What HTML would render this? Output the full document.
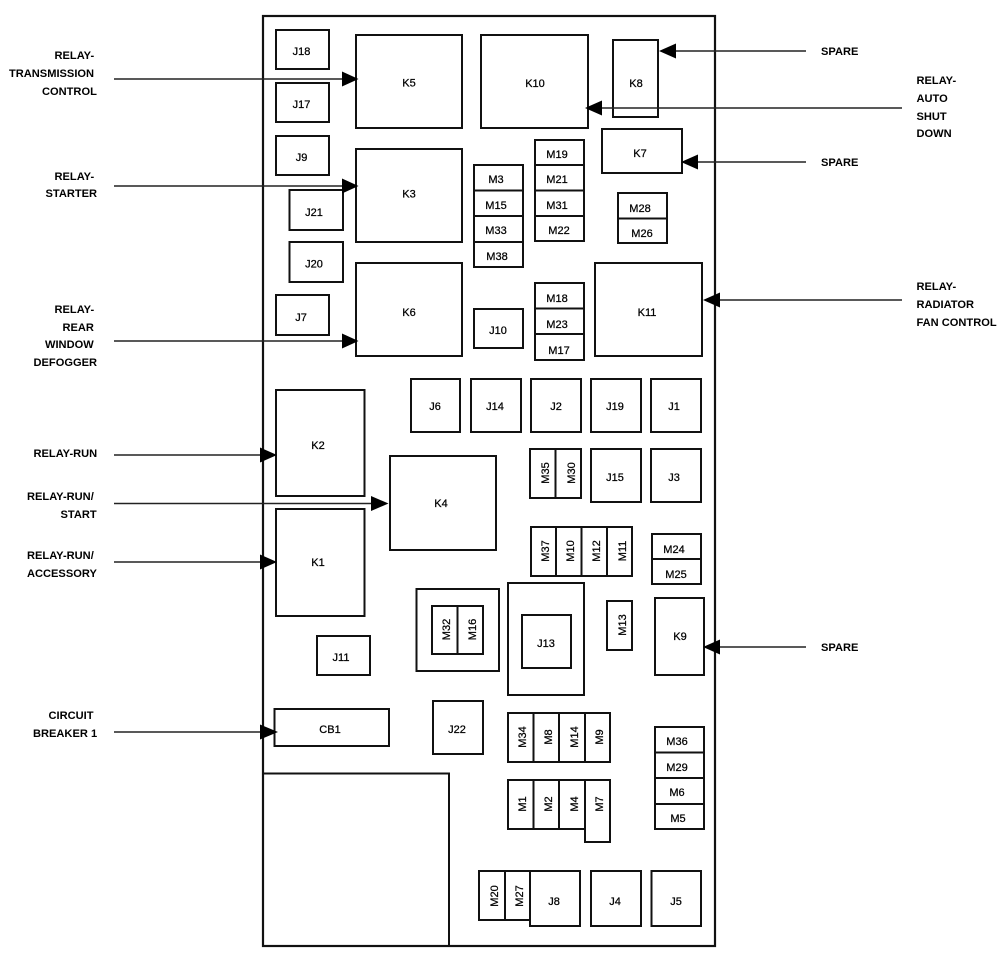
<!DOCTYPE html>
<html><head><meta charset="utf-8"><style>
html,body{margin:0;padding:0;background:#fff;width:1007px;height:966px;overflow:hidden}
svg{display:block}
rect{fill:none;stroke:#111;stroke-width:2}
line{stroke:#222;stroke-width:1.5}
polygon{fill:#000}
text{font-family:"Liberation Sans",sans-serif;font-size:11px;fill:#000}
.c text{text-anchor:middle;stroke:#000;stroke-width:.25px}
.l text{font-weight:bold;font-size:11.1px}
</style></head><body>
<svg width="1007" height="966" viewBox="0 0 1007 966" xmlns="http://www.w3.org/2000/svg">
<rect x="263" y="16" width="452" height="930" style="stroke-width:2.2"/>
<rect x="263" y="773.5" width="186" height="172.5"/>
<rect x="276" y="30" width="53" height="39"/><rect x="276" y="83" width="53" height="39"/><rect x="276" y="136" width="53" height="39"/>
<rect x="289.5" y="190" width="53.5" height="40"/><rect x="289.5" y="242" width="53.5" height="40"/><rect x="276" y="295" width="53" height="40"/>
<rect x="356" y="35" width="106" height="93"/><rect x="356" y="149" width="106" height="93"/><rect x="356" y="263" width="106" height="93"/>
<rect x="481" y="35" width="107" height="93"/><rect x="613" y="40" width="45" height="77"/><rect x="602" y="129" width="80" height="44"/>
<rect x="535" y="140" width="49" height="101"/><rect x="535" y="165" width="49" height="25.5"/><rect x="535" y="190.5" width="49" height="25.5"/>
<rect x="474" y="165" width="49" height="102"/><rect x="474" y="190.5" width="49" height="25.5"/><rect x="474" y="216" width="49" height="26"/>
<rect x="618" y="193" width="49" height="50"/><rect x="618" y="218.5" width="49" height="24.5"/>
<rect x="595" y="263" width="107" height="93"/>
<rect x="535" y="283" width="49" height="77"/><rect x="535" y="308.5" width="49" height="25.5"/>
<rect x="474" y="309" width="49" height="39"/>
<rect x="411" y="379" width="49" height="53"/><rect x="471" y="379" width="50" height="53"/><rect x="531" y="379" width="50" height="53"/><rect x="591" y="379" width="50" height="53"/><rect x="651" y="379" width="50" height="53"/>
<rect x="276" y="390" width="88.5" height="106"/><rect x="276" y="509" width="88.5" height="107"/><rect x="390" y="456" width="106" height="94"/>
<rect x="530" y="449" width="51" height="49"/><rect x="555.5" y="449" width="25.5" height="49"/>
<rect x="591" y="449" width="50" height="53"/><rect x="651" y="449" width="50" height="53"/>
<rect x="531" y="527" width="101" height="49"/><rect x="556" y="527" width="25.5" height="49"/><rect x="581.5" y="527" width="25.5" height="49"/>
<rect x="652" y="534" width="49" height="50"/><rect x="652" y="559" width="49" height="25"/>
<rect x="416.5" y="589" width="82.5" height="82"/><rect x="432" y="606" width="51" height="48"/><rect x="457.5" y="606" width="25.5" height="48"/>
<rect x="508" y="583" width="76" height="112"/><rect x="522" y="615" width="49" height="53"/>
<rect x="607" y="601" width="25" height="49"/><rect x="655" y="598" width="49" height="77"/>
<rect x="317" y="636" width="53" height="39"/><rect x="274.500" y="709" width="114.500" height="37"/><rect x="433" y="701" width="50" height="53"/>
<rect x="508" y="713" width="102" height="49"/><rect x="533.500" y="713" width="25.500" height="49"/><rect x="559" y="713" width="26" height="49"/>
<rect x="508" y="780" width="77" height="49"/><rect x="533.500" y="780" width="25.500" height="49"/><rect x="585" y="780" width="25" height="62"/>
<rect x="655" y="727" width="49" height="102"/><rect x="655" y="752.500" width="49" height="25.500"/><rect x="655" y="778" width="49" height="26"/>
<rect x="479" y="871" width="51" height="49"/><rect x="505" y="871" width="25" height="49"/>
<rect x="530" y="871" width="50" height="55" style="fill:#fff"/><rect x="591" y="871" width="50" height="55"/><rect x="651.500" y="871" width="49.500" height="55"/>

<line x1="114" y1="79" x2="345" y2="79"/><polygon points="342,71.500 358.500,79 342,86.500"/>
<line x1="114" y1="186" x2="345" y2="186"/><polygon points="342,178.500 358.500,186 342,193.500"/>
<line x1="114" y1="341" x2="345" y2="341"/><polygon points="342,333.500 358.500,341 342,348.500"/>
<line x1="114" y1="455" x2="263" y2="455"/><polygon points="260,447.500 277,455 260,462.500"/>
<line x1="114" y1="503.500" x2="374" y2="503.500"/><polygon points="371,496 388.500,503.500 371,511"/>
<line x1="114" y1="562" x2="263" y2="562"/><polygon points="260,554.500 277,562 260,569.500"/>
<line x1="114" y1="732" x2="263" y2="732"/><polygon points="260,724.500 278,732 260,739.500"/>
<line x1="806" y1="51" x2="673" y2="51"/><polygon points="676,43.500 659,51 676,58.500"/>
<line x1="902" y1="108" x2="599" y2="108"/><polygon points="602,100.500 585,108 602,115.500"/>
<line x1="806" y1="162" x2="695" y2="162"/><polygon points="698,154.500 681,162 698,169.500"/>
<line x1="902" y1="300" x2="717" y2="300"/><polygon points="720,292.500 703,300 720,307.500"/>
<line x1="806" y1="647" x2="717" y2="647"/><polygon points="720,639.500 703,647 720,654.500"/>

<g class="c">
<text x="409" y="86.500">K5</text><text x="409" y="197.500">K3</text><text x="409" y="316">K6</text><text x="535" y="87">K10</text><text x="636" y="87">K8</text><text x="640" y="157">K7</text><text x="647" y="316">K11</text>
<text x="301.500" y="55">J18</text><text x="301.500" y="108">J17</text><text x="301.500" y="161">J9</text><text x="314" y="216">J21</text><text x="314" y="267.500">J20</text><text x="301" y="321">J7</text>
<text x="496" y="183">M3</text><text x="496" y="209">M15</text><text x="496" y="234">M33</text><text x="497" y="260">M38</text>
<text x="557" y="158">M19</text><text x="557" y="183">M21</text><text x="557" y="209">M31</text><text x="559" y="234">M22</text>
<text x="640" y="212">M28</text><text x="642" y="237">M26</text>
<text x="557" y="302">M18</text><text x="557" y="328">M23</text><text x="559" y="354">M17</text><text x="498" y="334">J10</text>
<text x="435" y="410">J6</text><text x="495" y="410">J14</text><text x="556" y="410">J2</text><text x="615" y="410">J19</text><text x="674" y="410">J1</text>
<text x="318" y="449">K2</text><text x="318" y="566">K1</text><text x="441" y="507">K4</text><text x="615" y="481">J15</text><text x="674" y="481">J3</text>
<text x="674" y="553">M24</text><text x="676" y="578">M25</text><text x="546" y="647">J13</text><text x="680" y="640">K9</text><text x="341" y="661">J11</text><text x="330" y="733">CB1</text><text x="457" y="733">J22</text>
<text x="677" y="745">M36</text><text x="677" y="771">M29</text><text x="677" y="796">M6</text><text x="678" y="822">M5</text>
<text x="554" y="905">J8</text><text x="615" y="905">J4</text><text x="676" y="905">J5</text>
<text transform="translate(549,473) rotate(-90)">M35</text><text transform="translate(575,473) rotate(-90)">M30</text>
<text transform="translate(549,551) rotate(-90)">M37</text><text transform="translate(574,551) rotate(-90)">M10</text><text transform="translate(600,551) rotate(-90)">M12</text><text transform="translate(626,551) rotate(-90)">M11</text>
<text transform="translate(450,629.500) rotate(-90)">M32</text><text transform="translate(476,629.500) rotate(-90)">M16</text><text transform="translate(626,625) rotate(-90)">M13</text>
<text transform="translate(526,737) rotate(-90)">M34</text><text transform="translate(552,737) rotate(-90)">M8</text><text transform="translate(578,737) rotate(-90)">M14</text><text transform="translate(603,737) rotate(-90)">M9</text>
<text transform="translate(526,804) rotate(-90)">M1</text><text transform="translate(552,804) rotate(-90)">M2</text><text transform="translate(578,804) rotate(-90)">M4</text><text transform="translate(603,804) rotate(-90)">M7</text>
<text transform="translate(498,896) rotate(-90)">M20</text><text transform="translate(523,896) rotate(-90)">M27</text>
</g>

<g class="l">
<text x="54.500" y="59">RELAY-</text><text x="9" y="77">TRANSMISSION</text><text x="42" y="95">CONTROL</text>
<text x="54.500" y="180">RELAY-</text><text x="45.500" y="197">STARTER</text>
<text x="54.500" y="313">RELAY-</text><text x="62.500" y="331">REAR</text><text x="45" y="348">WINDOW</text><text x="33.500" y="366">DEFOGGER</text>
<text x="33.500" y="457">RELAY-RUN</text><text x="27" y="500">RELAY-RUN/</text><text x="60.500" y="518">START</text>
<text x="27" y="559">RELAY-RUN/</text><text x="27" y="577">ACCESSORY</text>
<text x="48.500" y="719">CIRCUIT</text><text x="33" y="737">BREAKER 1</text>
<text x="821" y="55">SPARE</text><text x="916.500" y="84">RELAY-</text><text x="916.500" y="102">AUTO</text><text x="916.500" y="120">SHUT</text><text x="916.500" y="137">DOWN</text>
<text x="821" y="166">SPARE</text><text x="916.500" y="290">RELAY-</text><text x="916.500" y="308">RADIATOR</text><text x="916.500" y="326">FAN CONTROL</text>
<text x="821" y="651">SPARE</text>
</g>
</svg>
</body></html>
